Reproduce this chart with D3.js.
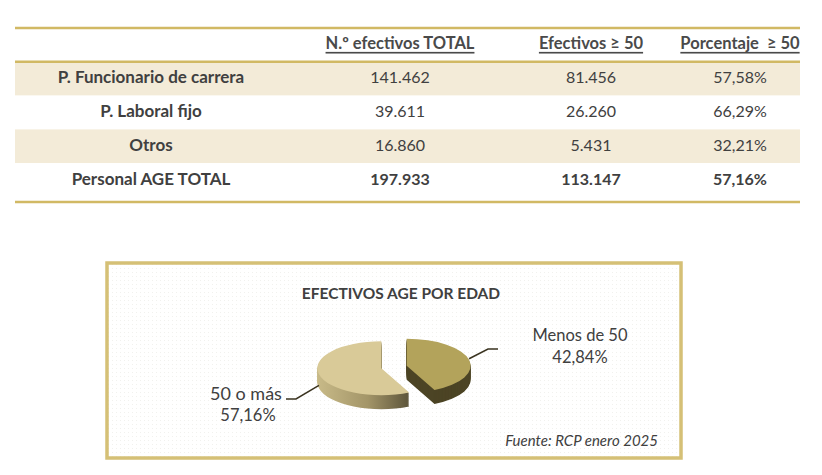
<!DOCTYPE html>
<html>
<head>
<meta charset="utf-8">
<script src="https://cdn.jsdelivr.net/npm/d3@7"></script>
<style>
  body { margin: 0; background: #fff; }
  svg { display: block; font-family: Lato, "Open Sans", sans-serif; }
</style>
</head>
<body>
<div id="chart"></div>
<script>
// ---- data ----
const headers = ["N.º efectivos TOTAL", "Efectivos ≥ 50", "Porcentaje  ≥ 50"];
const rowLabels = ["P. Funcionario de carrera", "P. Laboral fijo", "Otros", "Personal AGE TOTAL"];
const totals = [141462, 39611, 16860, 197933];
const over50 = [81456, 26260, 5431, 113147];
const pctOver50 = [57.58, 66.29, 32.21, 57.16];

const pieTitle = "EFECTIVOS AGE POR EDAD";
const pieLabels = ["Menos de 50", "50 o más"];
const pieValues = [42.84, 57.16];
const source = "Fuente: RCP enero 2025";

// ---- layout ----
const width = 822, height = 475;
const gold = "#d1b964";
const band = "#f3ebd8";
const ink = "#404040";

const es = d3.formatLocale({ decimal: ",", thousands: ".", grouping: [3], currency: ["", "€"] });
const fmtInt = es.format(",d");
const fmtPct = (v) => es.format(".2f")(v) + "%";

const svg = d3.select("#chart").append("svg")
  .attr("width", width).attr("height", height);

// ************************** table **************************
const tableLeft = 15, tableRight = 800;
const yRow = d3.scaleBand()
  .domain(d3.range(rowLabels.length + 1)) // 0 = header
  .range([28, 197]);
const colX = [151, 400, 591, 740];

const table = svg.append("g");

table.selectAll("rect.band")
  .data(rowLabels)
  .join("rect")
  .attr("class", "band")
  .attr("x", tableLeft)
  .attr("width", tableRight - tableLeft)
  .attr("y", (d, i) => yRow(i + 1))
  .attr("height", yRow.bandwidth())
  .attr("fill", (d, i) => (i % 2 === 0 ? band : "#fff"));

// gold rules
[yRow(0), yRow(1), 202].forEach((y) => {
  table.append("line")
    .attr("x1", tableLeft).attr("x2", tableRight)
    .attr("y1", y).attr("y2", y)
    .attr("stroke", gold).attr("stroke-width", 2.5);
});

// header
table.selectAll("text.head")
  .data(headers)
  .join("text")
  .attr("class", "head")
  .attr("x", (d, i) => colX[i + 1])
  .attr("y", yRow(0) + yRow.bandwidth() / 2 - 2)
  .attr("text-anchor", "middle")
  .attr("dominant-baseline", "central")
  .attr("font-size", 16.5)
  .attr("font-weight", "bold")
  .attr("fill", "#4a4a4a")
  .attr("text-decoration", "underline")
  .style("white-space", "pre")
  .text((d) => d);

const rows = table.selectAll("g.row")
  .data(rowLabels.map((label, i) => ({
    label, cells: [fmtInt(totals[i]), fmtInt(over50[i]), fmtPct(pctOver50[i])],
    last: i === rowLabels.length - 1
  })))
  .join("g")
  .attr("class", "row")
  .attr("transform", (d, i) => `translate(0,${yRow(i + 1) + yRow.bandwidth() / 2 - 2})`);

rows.append("text")
  .attr("x", colX[0])
  .attr("text-anchor", "middle")
  .attr("dominant-baseline", "central")
  .attr("font-size", 17)
  .attr("font-weight", "bold")
  .attr("fill", ink)
  .text((d) => d.label);

rows.selectAll("text.val")
  .data((d) => d.cells.map((c) => ({ c, last: d.last })))
  .join("text")
  .attr("class", "val")
  .attr("x", (d, i) => colX[i + 1])
  .attr("text-anchor", "middle")
  .attr("dominant-baseline", "central")
  .attr("font-size", 16)
  .attr("font-weight", (d) => (d.last ? "bold" : "normal"))
  .attr("fill", ink)
  .text((d) => d.c);

// ************************** 3D pie **************************
const box = { x: 107, y: 263, w: 574, h: 195 };

const defs = svg.append("defs");
const pat = defs.append("pattern")
  .attr("id", "dots").attr("width", 4).attr("height", 4)
  .attr("patternUnits", "userSpaceOnUse");
pat.append("rect").attr("width", 4).attr("height", 4).attr("fill", "#fff");
pat.append("rect").attr("width", 1).attr("height", 1).attr("fill", "#f1f1ee");

const lightSide = defs.append("linearGradient").attr("id", "lightSide");
lightSide.append("stop").attr("offset", "0%").attr("stop-color", "#c8ba88");
lightSide.append("stop").attr("offset", "55%").attr("stop-color", "#a39568");
lightSide.append("stop").attr("offset", "100%").attr("stop-color", "#5c543a");

const chart = svg.append("g");
chart.append("rect")
  .attr("x", box.x).attr("y", box.y)
  .attr("width", box.w).attr("height", box.h)
  .attr("fill", "url(#dots)")
  .attr("stroke", "#d5c076").attr("stroke-width", 3.5);

chart.append("text")
  .attr("x", 401).attr("y", 293)
  .attr("text-anchor", "middle")
  .attr("dominant-baseline", "central")
  .attr("font-size", 15.5)
  .attr("font-weight", "bold")
  .attr("fill", ink)
  .text(pieTitle);

const pieCx = 394, pieCy = 367, rx = 64, ry = 27, depth = 14, explode = 13;
const squash = ry / rx;
const topColor = ["#b3a35b", "#d9ca98"];
const sideColor = ["#4c4425", "url(#lightSide)"];

const arcs = d3.pie().sort(null)(pieValues);
const arc = d3.arc().innerRadius(0).outerRadius(rx);

arcs.forEach((a) => {
  const mid = (a.startAngle + a.endAngle) / 2;
  a.cx = pieCx + explode * Math.sin(mid);
  a.cy = pieCy - explode * Math.cos(mid) * squash;
  a.mid = mid;
});

const slices = chart.selectAll("g.slice")
  .data(arcs)
  .join("g")
  .attr("class", "slice");

// extruded side: stacked copies of the slice shape
slices.each(function (a, k) {
  const g = d3.select(this);
  g.selectAll("path.side")
    .data(d3.range(depth, 0, -1))
    .join("path")
    .attr("class", "side")
    .attr("transform", (dy) => `translate(${a.cx},${a.cy + dy}) scale(1,${squash})`)
    .attr("d", arc(a))
    .attr("fill", sideColor[k]);
  g.append("path")
    .attr("transform", `translate(${a.cx},${a.cy}) scale(1,${squash})`)
    .attr("d", arc(a))
    .attr("fill", topColor[k]);
});

// labels with leader lines
const labelPos = [
  { x: 580, y: 335, dir: 1, size: 16.5, lead: 82, drop: 14 },
  { x: 246, y: 393, dir: -1, size: 18, lead: 40, drop: 6 }
];

arcs.forEach((a, k) => {
  const p = labelPos[k];
  const sx = a.cx + rx * Math.sin(a.mid);
  const sy = a.cy - ry * Math.cos(a.mid) + (k === 1 ? depth * 0.8 : -1);
  const ex = p.x - p.lead * p.dir;
  const ey = p.y + p.drop;
  chart.append("polyline")
    .attr("points", [[sx, sy], [ex - 10 * p.dir, ey], [ex, ey]].map((q) => q.join(",")).join(" "))
    .attr("fill", "none")
    .attr("stroke", "#3a3320")
    .attr("stroke-width", 1.5);

  const t = chart.append("text")
    .attr("text-anchor", "middle")
    .attr("fill", ink);
  t.append("tspan").attr("x", p.x).attr("y", p.y).attr("dominant-baseline", "central")
    .attr("font-size", p.size).text(pieLabels[k]);
  t.append("tspan").attr("x", p.x + (k === 1 ? 2 : 0)).attr("y", p.y + 22).attr("dominant-baseline", "central")
    .attr("font-size", 16.5).text(fmtPct(pieValues[k]));
});

chart.append("text")
  .attr("x", 658).attr("y", 440)
  .attr("text-anchor", "end")
  .attr("dominant-baseline", "central")
  .attr("font-size", 15)
  .attr("font-style", "italic")
  .attr("fill", ink)
  .text(source);
</script>
</body>
</html>
